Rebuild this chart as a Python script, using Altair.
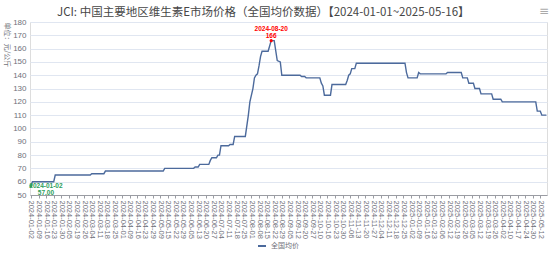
import json
import altair as alt
import pandas as pd

# ---- data ----
tick_labels = [
    "2024-01-02", "2024-01-09", "2024-01-16", "2024-01-23", "2024-01-30", "2024-02-05",
    "2024-02-19", "2024-02-26", "2024-03-04", "2024-03-11", "2024-03-18", "2024-03-25",
    "2024-04-01", "2024-04-09", "2024-04-16", "2024-04-23", "2024-04-29", "2024-05-09",
    "2024-05-15", "2024-05-22", "2024-05-29", "2024-06-05", "2024-06-13", "2024-06-20",
    "2024-06-27", "2024-07-04", "2024-07-11", "2024-07-18", "2024-07-25", "2024-08-01",
    "2024-08-08", "2024-08-15", "2024-08-22", "2024-08-29", "2024-09-05", "2024-09-12",
    "2024-09-20", "2024-09-27", "2024-10-10", "2024-10-16", "2024-10-23", "2024-10-30",
    "2024-11-06", "2024-11-13", "2024-11-20", "2024-11-27", "2024-12-04", "2024-12-11",
    "2024-12-18", "2024-12-25", "2025-01-02", "2025-01-09", "2025-01-16", "2025-01-23",
    "2025-02-06", "2025-02-12", "2025-02-19", "2025-02-26", "2025-03-05", "2025-03-12",
    "2025-03-19", "2025-03-26", "2025-04-02", "2025-04-10", "2025-04-17", "2025-04-24",
    "2025-04-30", "2025-05-12",
]
# trading-day index (category position) and price (元/公斤)
day_index = [0, 1, 15, 16, 39, 40, 48, 49, 87, 88, 107, 108, 110, 111, 117, 118, 119,
             122, 123, 124, 125, 130, 131, 133, 134, 141, 143, 144, 146, 147, 148, 149,
             150, 151, 152, 156, 157, 158, 160, 162, 164, 165, 177, 178, 180, 181, 190,
             191, 192, 193, 197, 198, 207, 208, 209, 210, 211, 213, 214, 246, 247, 248,
             254, 255, 256, 273, 274, 283, 284, 287, 288, 291, 292, 295, 296, 303, 304,
             309, 310, 332, 333, 335, 336, 339]
price = [57, 60, 60, 65, 65, 66, 66, 68, 68, 70, 70, 71, 71, 73, 73, 76, 78,
         78, 80, 80, 87, 87, 88, 88, 94, 94, 110, 120, 130, 138, 140, 141,
         147, 154, 158, 158, 162, 166, 166, 151, 150, 140, 140, 139, 139, 138, 138,
         134, 132, 125, 125, 133, 133, 136, 140, 141, 145, 145, 149, 149, 142, 138,
         138, 142, 141, 141, 142, 142, 138, 138, 134, 134, 130, 130, 126, 126, 122,
         122, 120, 120, 113, 113, 110, 110]
series_name = "全国均价"
title_text = "JCI: 中国主要地区维生素E市场价格（全国均价数据）【2024-01-01~2025-05-16】"

min_point = {"idx": [0], "val": [57], "date": ["2024-01-02"], "txt": ["57.00"]}
max_point = {"idx": [158], "val": [166], "date": ["2024-08-20"], "txt": ["166"]}

FONT = "Noto Sans CJK SC"
NUMFONT = "Liberation Sans"
LINE = "#4C6A9C"
GRAY = "#6E7079"

df = pd.DataFrame({"idx": day_index, "val": price, "s": series_name})
dmin = pd.DataFrame(min_point)
dmax = pd.DataFrame(max_point)

label_expr = json.dumps(tick_labels) + "[round(datum.value / 5)]"

x_scale = alt.Scale(domain=[-0.6, 339.4], nice=False, zero=False)
y_scale = alt.Scale(domain=[50, 180], nice=False, zero=False)

x_axis = alt.Axis(
    values=list(range(0, 336, 5)), labelExpr=label_expr, labelAngle=90,
    labelFontSize=7.5, labelColor=GRAY, labelFont=NUMFONT, labelPadding=2,
    labelOverlap=False, grid=False, domainColor="#9A9CA3", tickColor="#9A9CA3",
    tickSize=3, title=None,
)
y_axis = alt.Axis(
    values=list(range(50, 181, 10)), labelFontSize=8, labelColor=GRAY, labelFont=NUMFONT,
    labelPadding=4, labelOverlap=False, grid=True, gridColor="#E0E6F1", domain=False,
    ticks=False, title="单位：元/公斤", titleAngle=90, titleFontSize=7, titleColor=GRAY,
    titleFont=FONT, titleFontWeight="normal", titleX=-24, titleY=0,
    titleAlign="left", titleBaseline="middle",
)

line = alt.Chart(df).mark_line(strokeWidth=1.4).encode(
    color=alt.Color("s:N", scale=alt.Scale(range=[LINE]),
                    legend=alt.Legend(orient="none", legendX=227, legendY=219,
                                      title=None, symbolType="stroke",
                                      symbolStrokeWidth=2, symbolSize=64,
                                      labelFontSize=7, labelColor=GRAY,
                                      labelFont=FONT)),
)

min_dot = alt.Chart(dmin).mark_circle(size=10, color="#2E9E5B", opacity=1).encode()
min_t1 = alt.Chart(dmin).mark_text(font=NUMFONT, fontSize=6.5, fontWeight="bold",
                                   color="#2E9E5B", dx=15, dy=0).encode(text="date:N")
min_t2 = alt.Chart(dmin).mark_text(font=NUMFONT, fontSize=6.5, fontWeight="bold",
                                   color="#2E9E5B", dx=15, dy=7).encode(text="txt:N")

max_dot = alt.Chart(dmax).mark_circle(size=10, color="#FF0000", opacity=1).encode()
max_t1 = alt.Chart(dmax).mark_text(font=NUMFONT, fontSize=6.5, fontWeight="bold",
                                   color="#FF0000", dy=-12).encode(text="date:N")
max_t2 = alt.Chart(dmax).mark_text(font=NUMFONT, fontSize=6.5, fontWeight="bold",
                                   color="#FF0000", dy=-5).encode(text="txt:N")

title = alt.Chart(pd.DataFrame({"t": [title_text]})).mark_text(
    font=FONT, fontSize=11.5, color="#464646", align="left", baseline="middle"
).encode(x=alt.value(27), y=alt.value(-9), text="t:N")

menu = alt.Chart(pd.DataFrame({"t": ["≡"]})).mark_text(
    font="DejaVu Sans", fontSize=12, color="#AAAAAA"
).encode(x=alt.value(514), y=alt.value(-11), text="t:N")

chart = alt.layer(
    line, min_dot, min_t1, min_t2, max_dot, max_t1, max_t2, title, menu
).encode(
    x=alt.X("idx:Q", scale=x_scale, axis=x_axis),
    y=alt.Y("val:Q", scale=y_scale, axis=y_axis),
).properties(
    width=517, height=173,
    autosize=alt.AutoSizeParams(type="none"),
    padding={"left": 30, "top": 22, "right": 7, "bottom": 60},
).configure_view(stroke=None).configure(background="white")

chart.save("out.html", embed_options={"renderer": "svg", "actions": False})
